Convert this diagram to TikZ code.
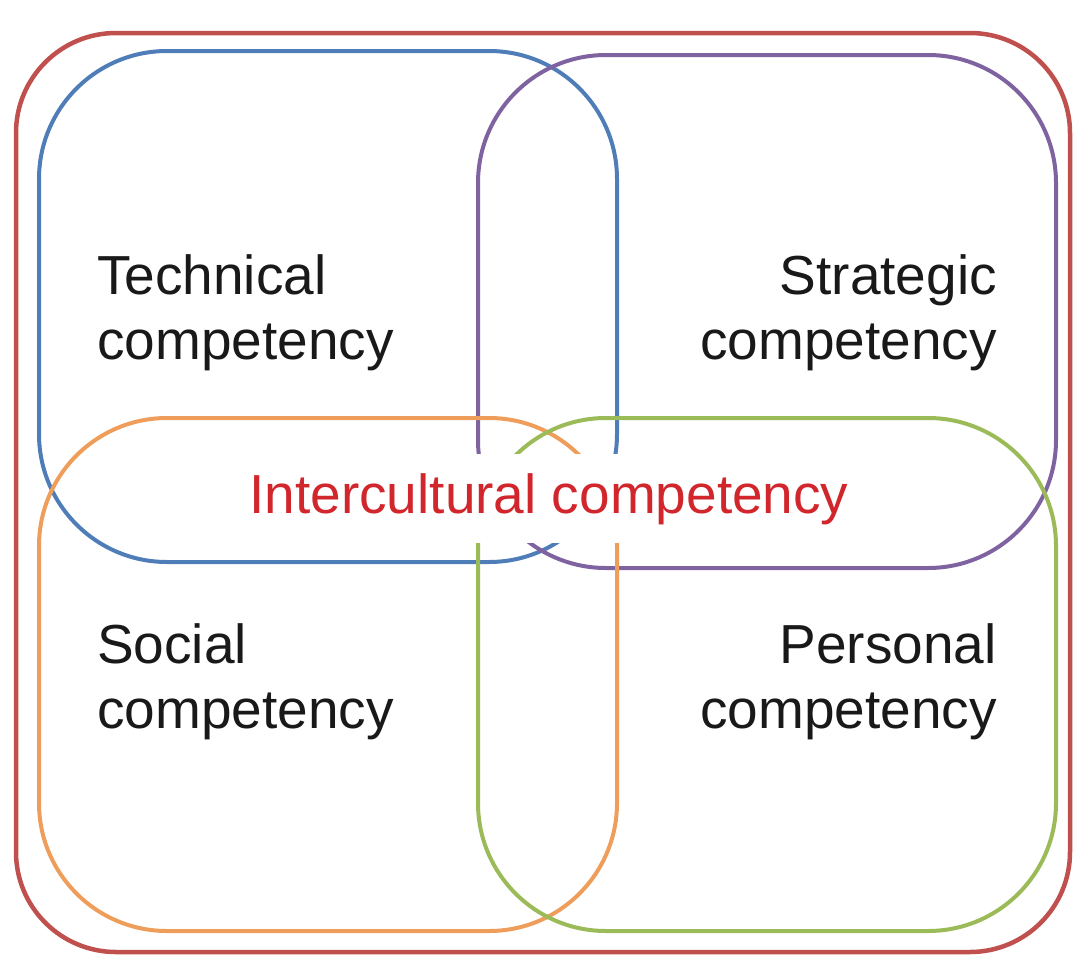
\documentclass[tikz,border=0pt]{standalone}
\usepackage{fontspec}
\setmainfont{Liberation Sans}
\definecolor{frameRed}{RGB}{192,80,77}
\definecolor{ringBlue}{RGB}{79,125,184}
\definecolor{ringPurple}{RGB}{127,99,161}
\definecolor{ringOrange}{RGB}{238,158,90}
\definecolor{ringGreen}{RGB}{155,187,89}
\definecolor{coreRed}{RGB}{208,38,44}
\definecolor{labelInk}{RGB}{25,25,25}
\begin{document}
\begin{tikzpicture}[x=1pt,y=-1pt,
  frame/.style={draw=frameRed, line width=4.5pt, rounded corners=100pt},
  ring/.style={line width=4pt, rounded corners=128pt},
  label/.style={font=\fontsize{55}{65}\selectfont, text=labelInk, inner sep=0pt},
  core/.style={font=\fontsize{55}{65}\selectfont, text=coreRed, fill=white,
    inner xsep=10pt, inner ysep=19pt}]
\useasboundingbox (0,0) rectangle (1074,956);
% outer frame
\draw[frame] (16,33) rectangle (1070,952);
% four overlapping competency areas
\draw[ring, draw=ringBlue]   (39,51)  rectangle (617,562);
\draw[ring, draw=ringPurple] (478,55) rectangle (1056,568);
\draw[ring, draw=ringOrange] (39,418) rectangle (617,931);
\draw[ring, draw=ringGreen]  (478,418) rectangle (1056,931);
% labels
\node[label, align=left, anchor=north west]  (tech)  at (97,254)  {Technical\\competency};
\node[label, align=right, anchor=north east] (strat) at (997,254) {Strategic\\competency};
\node[label, align=left, anchor=north west]  (soc)   at (97,623)  {Social\\competency};
\node[label, align=right, anchor=north east] (pers)  at (997,623) {Personal\\competency};
\node[core, anchor=base] (inter) at (549,513) {Intercultural competency};
\end{tikzpicture}
\end{document}
